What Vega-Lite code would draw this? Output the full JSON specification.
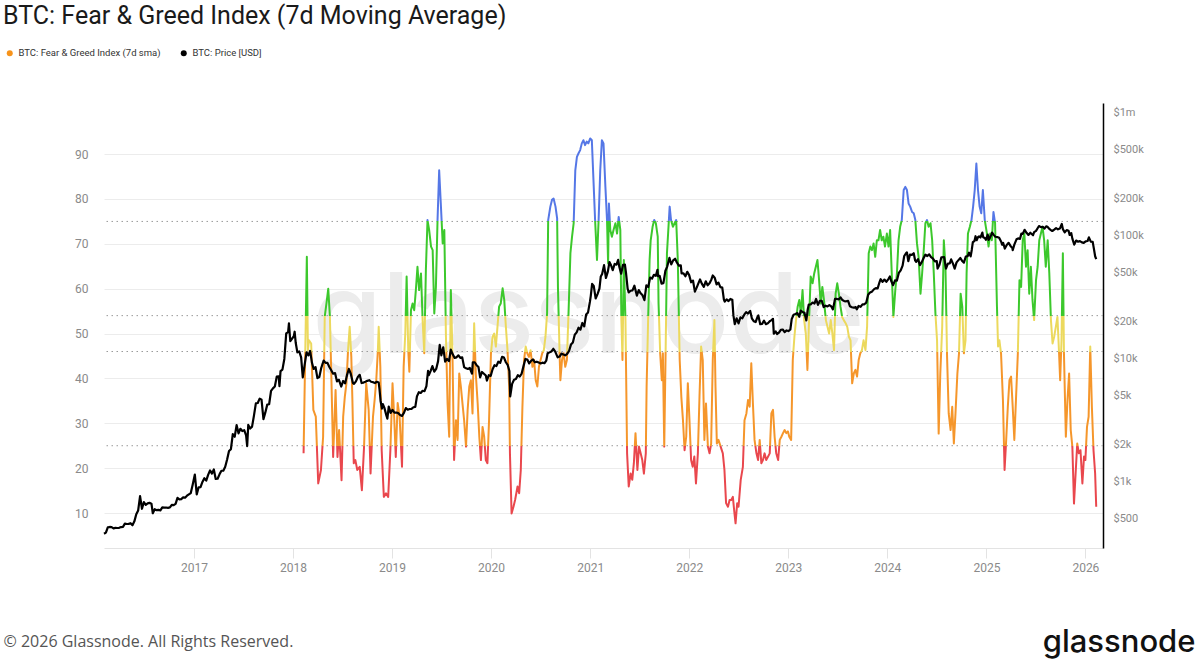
{
"$schema":"https://vega.github.io/schema/vega-lite/v6.json",
"width":999,"height":445,
"autosize":{"type":"none"},
"padding":{"left":104,"top":103,"right":97,"bottom":113},
"background":"white",
"config":{"view":{"stroke":null},"font":"Roboto"},
"title":{"text":"BTC: Fear & Greed Index (7d Moving Average)","anchor":"start","frame":"group","dx":-101,"dy":1,"offset":0,"baseline":"alphabetic","fontSize":25,"font":"Roboto","fontWeight":"normal","color":"#1a1a1a"},
"datasets":{
"thresholds":[{"fg":75},{"fg":54},{"fg":46},{"fg":25}],
"fg":[
{"date":"2018-02-09","fg":23.3},{"date":"2018-02-21","fg":67.1},{"date":"2018-02-25","fg":46.3},{"date":"2018-03-01","fg":48.5},{"date":"2018-03-09","fg":47.8},{"date":"2018-03-17","fg":33},{"date":"2018-03-26","fg":31.5},{"date":"2018-04-04","fg":16.6},{"date":"2018-04-14","fg":19.6},{"date":"2018-04-22","fg":27},{"date":"2018-04-28","fg":53.8},{"date":"2018-05-06","fg":57.5},{"date":"2018-05-11","fg":60},{"date":"2018-05-17","fg":53.8},{"date":"2018-05-23","fg":38.9},{"date":"2018-05-29","fg":22.5},{"date":"2018-06-07","fg":37.4},{"date":"2018-06-14","fg":22.5},{"date":"2018-06-20","fg":28.5},{"date":"2018-06-29","fg":17.3},{"date":"2018-07-05","fg":31.5},{"date":"2018-07-11","fg":35.9},{"date":"2018-07-17","fg":38.9},{"date":"2018-07-23","fg":46.3},{"date":"2018-07-29","fg":51.5},{"date":"2018-08-04","fg":44.8},{"date":"2018-08-08","fg":35.2},{"date":"2018-08-13","fg":21.1},{"date":"2018-08-19","fg":21.8},{"date":"2018-08-26","fg":19.6},{"date":"2018-09-04","fg":20.3},{"date":"2018-09-12","fg":15.1},{"date":"2018-09-20","fg":24.8},{"date":"2018-09-28","fg":38.9},{"date":"2018-10-07","fg":33},{"date":"2018-10-14","fg":18.8},{"date":"2018-10-23","fg":31.5},{"date":"2018-10-29","fg":35.2},{"date":"2018-11-04","fg":39.6},{"date":"2018-11-10","fg":46.3},{"date":"2018-11-13","fg":51.5},{"date":"2018-11-19","fg":42.6},{"date":"2018-11-24","fg":24},{"date":"2018-12-02","fg":13.6},{"date":"2018-12-10","fg":14.4},{"date":"2018-12-18","fg":13.6},{"date":"2018-12-26","fg":24},
{"date":"2019-01-03","fg":38.9},{"date":"2019-01-09","fg":31.5},{"date":"2019-01-15","fg":22.5},{"date":"2019-01-22","fg":34.5},{"date":"2019-01-29","fg":31.5},{"date":"2019-02-07","fg":20.3},{"date":"2019-02-13","fg":42.6},{"date":"2019-02-19","fg":50},{"date":"2019-02-24","fg":62.7},{"date":"2019-03-02","fg":46.3},{"date":"2019-03-06","fg":41.5},{"date":"2019-03-12","fg":55.2},{"date":"2019-03-18","fg":56.7},{"date":"2019-03-24","fg":55.2},{"date":"2019-03-30","fg":59.7},{"date":"2019-04-05","fg":64.9},{"date":"2019-04-11","fg":59.7},{"date":"2019-04-18","fg":63.4},{"date":"2019-04-24","fg":53},{"date":"2019-04-30","fg":45.6},{"date":"2019-05-06","fg":64.2},{"date":"2019-05-12","fg":75.3},{"date":"2019-05-18","fg":73.1},{"date":"2019-05-25","fg":69.4},{"date":"2019-05-31","fg":68.6},{"date":"2019-06-06","fg":54.5},{"date":"2019-06-12","fg":60.4},{"date":"2019-06-18","fg":75.3},{"date":"2019-06-24","fg":86.4},{"date":"2019-06-30","fg":79},{"date":"2019-07-07","fg":70.1},{"date":"2019-07-13","fg":73.1},{"date":"2019-07-19","fg":49.3},{"date":"2019-07-25","fg":34.4},{"date":"2019-07-31","fg":27},{"date":"2019-08-06","fg":59.7},{"date":"2019-08-12","fg":45.6},{"date":"2019-08-18","fg":21.8},{"date":"2019-08-25","fg":30.7},{"date":"2019-08-31","fg":26.3},{"date":"2019-09-06","fg":41.1},{"date":"2019-09-12","fg":38.2},{"date":"2019-09-18","fg":34.4},{"date":"2019-09-24","fg":30.7},{"date":"2019-10-01","fg":24.8},{"date":"2019-10-07","fg":33},{"date":"2019-10-13","fg":38.2},{"date":"2019-10-19","fg":39.6},{"date":"2019-10-25","fg":32.2},{"date":"2019-10-31","fg":52.3},{"date":"2019-11-06","fg":41.1},{"date":"2019-11-13","fg":34.4},{"date":"2019-11-19","fg":27},{"date":"2019-11-25","fg":21.8},{"date":"2019-12-01","fg":29.2},{"date":"2019-12-07","fg":27},{"date":"2019-12-13","fg":21.8},{"date":"2019-12-19","fg":21.1},{"date":"2019-12-25","fg":30.7},
{"date":"2020-01-01","fg":45.6},{"date":"2020-01-07","fg":49.3},{"date":"2020-01-13","fg":50},{"date":"2020-01-19","fg":47.1},{"date":"2020-01-25","fg":51.5},{"date":"2020-01-31","fg":56},{"date":"2020-02-06","fg":56.7},{"date":"2020-02-13","fg":60.1},{"date":"2020-02-19","fg":57.5},{"date":"2020-02-25","fg":51.5},{"date":"2020-03-02","fg":46.3},{"date":"2020-03-08","fg":38.2},{"date":"2020-03-11","fg":23.3},{"date":"2020-03-17","fg":9.9},{"date":"2020-03-24","fg":11.4},{"date":"2020-03-30","fg":12.9},{"date":"2020-04-08","fg":15.9},{"date":"2020-04-14","fg":14.4},{"date":"2020-04-20","fg":19.6},{"date":"2020-04-26","fg":33.7},{"date":"2020-05-02","fg":44.1},{"date":"2020-05-08","fg":47.1},{"date":"2020-05-14","fg":45.6},{"date":"2020-05-20","fg":44.8},{"date":"2020-05-26","fg":46.3},{"date":"2020-06-02","fg":42.6},{"date":"2020-06-08","fg":44.1},{"date":"2020-06-14","fg":39.6},{"date":"2020-06-20","fg":38.2},{"date":"2020-06-26","fg":42.6},{"date":"2020-07-02","fg":44.1},{"date":"2020-07-08","fg":45.6},{"date":"2020-07-14","fg":46.3},{"date":"2020-07-20","fg":49.3},{"date":"2020-07-26","fg":54.5},{"date":"2020-07-30","fg":75.3},{"date":"2020-08-07","fg":78.3},{"date":"2020-08-13","fg":79.8},{"date":"2020-08-19","fg":80.1},{"date":"2020-08-26","fg":78.3},{"date":"2020-09-01","fg":75.7},{"date":"2020-09-04","fg":60.4},{"date":"2020-09-10","fg":45.6},{"date":"2020-09-13","fg":39.6},{"date":"2020-09-19","fg":44.1},{"date":"2020-09-25","fg":45.6},{"date":"2020-10-01","fg":42.6},{"date":"2020-10-07","fg":44.1},{"date":"2020-10-13","fg":54.5},{"date":"2020-10-20","fg":67.9},{"date":"2020-10-26","fg":71.6},{"date":"2020-11-01","fg":74.6},{"date":"2020-11-07","fg":86.4},{"date":"2020-11-13","fg":89.4},{"date":"2020-11-19","fg":90.2},{"date":"2020-11-25","fg":90.9},{"date":"2020-12-01","fg":92.4},{"date":"2020-12-07","fg":93.1},{"date":"2020-12-13","fg":92},{"date":"2020-12-19","fg":92.8},{"date":"2020-12-25","fg":92.4},
{"date":"2021-01-01","fg":93.5},{"date":"2021-01-07","fg":93.1},{"date":"2021-01-13","fg":84.2},{"date":"2021-01-19","fg":75.3},{"date":"2021-01-26","fg":66.4},{"date":"2021-02-01","fg":75.3},{"date":"2021-02-07","fg":86.4},{"date":"2021-02-13","fg":93.1},{"date":"2021-02-19","fg":92.4},{"date":"2021-02-26","fg":82.7},{"date":"2021-03-04","fg":75.3},{"date":"2021-03-08","fg":65.6},{"date":"2021-03-11","fg":79},{"date":"2021-03-16","fg":73.1},{"date":"2021-03-22","fg":71.6},{"date":"2021-03-28","fg":73.1},{"date":"2021-04-04","fg":74.6},{"date":"2021-04-10","fg":72.3},{"date":"2021-04-16","fg":76},{"date":"2021-04-22","fg":73.1},{"date":"2021-04-26","fg":53},{"date":"2021-04-30","fg":44.1},{"date":"2021-05-05","fg":66.4},{"date":"2021-05-11","fg":53},{"date":"2021-05-17","fg":23.3},{"date":"2021-05-23","fg":15.9},{"date":"2021-05-30","fg":18.8},{"date":"2021-06-05","fg":17.4},{"date":"2021-06-11","fg":21.1},{"date":"2021-06-17","fg":27.8},{"date":"2021-06-24","fg":19.6},{"date":"2021-06-30","fg":24.8},{"date":"2021-07-06","fg":23.3},{"date":"2021-07-12","fg":21.8},{"date":"2021-07-18","fg":18.8},{"date":"2021-07-25","fg":23.3},{"date":"2021-07-28","fg":38.2},{"date":"2021-08-02","fg":51.5},{"date":"2021-08-08","fg":66.4},{"date":"2021-08-12","fg":70.8},{"date":"2021-08-19","fg":73.8},{"date":"2021-08-25","fg":75.3},{"date":"2021-08-31","fg":74.6},{"date":"2021-09-07","fg":71.6},{"date":"2021-09-10","fg":56.7},{"date":"2021-09-16","fg":45.6},{"date":"2021-09-22","fg":39.6},{"date":"2021-09-26","fg":45.6},{"date":"2021-10-01","fg":24.8},{"date":"2021-10-06","fg":45.6},{"date":"2021-10-11","fg":67.9},{"date":"2021-10-16","fg":73.1},{"date":"2021-10-21","fg":78.3},{"date":"2021-10-26","fg":75.3},{"date":"2021-11-02","fg":73.8},{"date":"2021-11-08","fg":74.6},{"date":"2021-11-14","fg":75.3},{"date":"2021-11-20","fg":66.4},{"date":"2021-11-27","fg":44.1},{"date":"2021-12-03","fg":35.9},{"date":"2021-12-09","fg":30.7},{"date":"2021-12-15","fg":24},{"date":"2021-12-21","fg":27},{"date":"2021-12-27","fg":38.9},
{"date":"2022-01-02","fg":30.7},{"date":"2022-01-08","fg":21.8},{"date":"2022-01-14","fg":20.3},{"date":"2022-01-20","fg":22.6},{"date":"2022-01-26","fg":16.6},{"date":"2022-02-02","fg":23.3},{"date":"2022-02-08","fg":35.9},{"date":"2022-02-14","fg":47.1},{"date":"2022-02-20","fg":44.1},{"date":"2022-02-26","fg":26.3},{"date":"2022-03-04","fg":34.4},{"date":"2022-03-11","fg":24.8},{"date":"2022-03-17","fg":23.3},{"date":"2022-03-23","fg":25.5},{"date":"2022-03-29","fg":44.1},{"date":"2022-04-04","fg":53},{"date":"2022-04-08","fg":38.2},{"date":"2022-04-13","fg":25.5},{"date":"2022-04-19","fg":26.3},{"date":"2022-04-27","fg":24.8},{"date":"2022-05-05","fg":23.3},{"date":"2022-05-11","fg":19.6},{"date":"2022-05-17","fg":12.2},{"date":"2022-05-24","fg":11.4},{"date":"2022-05-30","fg":12.9},{"date":"2022-06-05","fg":12.9},{"date":"2022-06-11","fg":13.6},{"date":"2022-06-17","fg":9.9},{"date":"2022-06-21","fg":7.7},{"date":"2022-06-27","fg":12.2},{"date":"2022-07-02","fg":11.4},{"date":"2022-07-10","fg":17.4},{"date":"2022-07-18","fg":20.3},{"date":"2022-07-24","fg":30.7},{"date":"2022-07-31","fg":32.2},{"date":"2022-08-06","fg":35.2},{"date":"2022-08-12","fg":33.7},{"date":"2022-08-18","fg":43.4},{"date":"2022-08-24","fg":34.4},{"date":"2022-08-30","fg":26.3},{"date":"2022-09-06","fg":23.3},{"date":"2022-09-12","fg":21.8},{"date":"2022-09-18","fg":26.3},{"date":"2022-09-24","fg":21.1},{"date":"2022-09-30","fg":21.8},{"date":"2022-10-06","fg":23.3},{"date":"2022-10-12","fg":21.8},{"date":"2022-10-19","fg":22.6},{"date":"2022-10-25","fg":23.3},{"date":"2022-10-31","fg":32.2},{"date":"2022-11-06","fg":33},{"date":"2022-11-12","fg":27},{"date":"2022-11-18","fg":23.3},{"date":"2022-11-25","fg":21.8},{"date":"2022-12-01","fg":26.3},{"date":"2022-12-07","fg":27},{"date":"2022-12-13","fg":27.8},{"date":"2022-12-19","fg":28.5},{"date":"2022-12-25","fg":27.8},{"date":"2022-12-31","fg":28.2},
{"date":"2023-01-05","fg":27},{"date":"2023-01-12","fg":26.3},{"date":"2023-01-18","fg":44.1},{"date":"2023-01-24","fg":49.3},{"date":"2023-01-30","fg":53},{"date":"2023-02-05","fg":56},{"date":"2023-02-11","fg":57.5},{"date":"2023-02-17","fg":54.5},{"date":"2023-02-23","fg":59.7},{"date":"2023-03-01","fg":53},{"date":"2023-03-07","fg":50},{"date":"2023-03-13","fg":41.9},{"date":"2023-03-19","fg":53},{"date":"2023-03-25","fg":62.7},{"date":"2023-04-01","fg":61.2},{"date":"2023-04-07","fg":63.4},{"date":"2023-04-13","fg":64.9},{"date":"2023-04-19","fg":66.4},{"date":"2023-04-25","fg":61.9},{"date":"2023-05-01","fg":56.7},{"date":"2023-05-07","fg":60.4},{"date":"2023-05-13","fg":57.5},{"date":"2023-05-20","fg":53},{"date":"2023-05-26","fg":51.5},{"date":"2023-06-01","fg":50},{"date":"2023-06-07","fg":53},{"date":"2023-06-13","fg":50},{"date":"2023-06-19","fg":46.3},{"date":"2023-06-25","fg":58.9},{"date":"2023-07-01","fg":61.2},{"date":"2023-07-07","fg":58.9},{"date":"2023-07-13","fg":56},{"date":"2023-07-19","fg":53.7},{"date":"2023-07-25","fg":53},{"date":"2023-08-01","fg":52.3},{"date":"2023-08-07","fg":51.5},{"date":"2023-08-13","fg":49.3},{"date":"2023-08-19","fg":48.5},{"date":"2023-08-25","fg":38.9},{"date":"2023-08-31","fg":41.1},{"date":"2023-09-06","fg":41.9},{"date":"2023-09-12","fg":40.4},{"date":"2023-09-18","fg":44.1},{"date":"2023-09-24","fg":45.6},{"date":"2023-09-30","fg":46.3},{"date":"2023-10-06","fg":48.5},{"date":"2023-10-13","fg":46.3},{"date":"2023-10-19","fg":51.5},{"date":"2023-10-25","fg":67.9},{"date":"2023-10-31","fg":69.4},{"date":"2023-11-06","fg":68.6},{"date":"2023-11-12","fg":70.1},{"date":"2023-11-18","fg":67.1},{"date":"2023-11-24","fg":70.8},{"date":"2023-11-30","fg":70.8},{"date":"2023-12-06","fg":73.1},{"date":"2023-12-12","fg":70.8},{"date":"2023-12-18","fg":71.6},{"date":"2023-12-24","fg":69.4},{"date":"2023-12-31","fg":72.3},
{"date":"2024-01-06","fg":69.4},{"date":"2024-01-12","fg":73.1},{"date":"2024-01-18","fg":63.4},{"date":"2024-01-24","fg":53.7},{"date":"2024-01-31","fg":59.7},{"date":"2024-02-06","fg":63.4},{"date":"2024-02-12","fg":70.8},{"date":"2024-02-18","fg":73.8},{"date":"2024-02-24","fg":75.3},{"date":"2024-03-02","fg":82},{"date":"2024-03-08","fg":82.7},{"date":"2024-03-14","fg":82},{"date":"2024-03-20","fg":79},{"date":"2024-03-26","fg":78.3},{"date":"2024-04-02","fg":77.1},{"date":"2024-04-08","fg":76.8},{"date":"2024-04-14","fg":75.3},{"date":"2024-04-20","fg":70.1},{"date":"2024-04-26","fg":67.1},{"date":"2024-05-03","fg":58.9},{"date":"2024-05-09","fg":63.4},{"date":"2024-05-15","fg":68.6},{"date":"2024-05-21","fg":74.6},{"date":"2024-05-27","fg":75.3},{"date":"2024-06-02","fg":73.8},{"date":"2024-06-09","fg":74.6},{"date":"2024-06-15","fg":70.8},{"date":"2024-06-21","fg":63.4},{"date":"2024-06-27","fg":54.5},{"date":"2024-07-03","fg":48.5},{"date":"2024-07-09","fg":27.7},{"date":"2024-07-15","fg":41.1},{"date":"2024-07-22","fg":51.5},{"date":"2024-07-28","fg":70.8},{"date":"2024-08-03","fg":64.9},{"date":"2024-08-09","fg":44.8},{"date":"2024-08-15","fg":32.2},{"date":"2024-08-22","fg":28.5},{"date":"2024-08-28","fg":33.7},{"date":"2024-09-03","fg":25.5},{"date":"2024-09-09","fg":32.2},{"date":"2024-09-16","fg":41.1},{"date":"2024-09-22","fg":45.6},{"date":"2024-09-28","fg":58.9},{"date":"2024-10-04","fg":56},{"date":"2024-10-10","fg":45.6},{"date":"2024-10-16","fg":48.5},{"date":"2024-10-20","fg":63.4},{"date":"2024-10-25","fg":72.3},{"date":"2024-11-01","fg":73.8},{"date":"2024-11-07","fg":75.3},{"date":"2024-11-13","fg":78.3},{"date":"2024-11-19","fg":82},{"date":"2024-11-25","fg":87.9},{"date":"2024-12-01","fg":82},{"date":"2024-12-07","fg":78.3},{"date":"2024-12-13","fg":76.8},{"date":"2024-12-19","fg":82},{"date":"2024-12-26","fg":75.3},
{"date":"2025-01-03","fg":72.3},{"date":"2025-01-09","fg":69.4},{"date":"2025-01-15","fg":72.3},{"date":"2025-01-21","fg":70.8},{"date":"2025-01-27","fg":77.1},{"date":"2025-02-02","fg":74.6},{"date":"2025-02-09","fg":56},{"date":"2025-02-13","fg":47.1},{"date":"2025-02-18","fg":48.5},{"date":"2025-02-24","fg":45.6},{"date":"2025-03-03","fg":35.2},{"date":"2025-03-09","fg":19.6},{"date":"2025-03-15","fg":26.3},{"date":"2025-03-21","fg":33.7},{"date":"2025-03-27","fg":39.6},{"date":"2025-04-02","fg":40.4},{"date":"2025-04-08","fg":33.7},{"date":"2025-04-14","fg":26.3},{"date":"2025-04-20","fg":35.2},{"date":"2025-04-27","fg":45.6},{"date":"2025-05-03","fg":61.9},{"date":"2025-05-09","fg":60.4},{"date":"2025-05-15","fg":70.8},{"date":"2025-05-21","fg":72.3},{"date":"2025-05-27","fg":64.9},{"date":"2025-06-02","fg":68.6},{"date":"2025-06-08","fg":58.9},{"date":"2025-06-14","fg":64.9},{"date":"2025-06-20","fg":57.5},{"date":"2025-06-26","fg":53},{"date":"2025-07-03","fg":61.9},{"date":"2025-07-09","fg":64.9},{"date":"2025-07-15","fg":70.8},{"date":"2025-07-21","fg":72.3},{"date":"2025-07-27","fg":73.8},{"date":"2025-08-02","fg":70.8},{"date":"2025-08-08","fg":64.9},{"date":"2025-08-15","fg":70.8},{"date":"2025-08-21","fg":63.4},{"date":"2025-08-27","fg":53},{"date":"2025-09-02","fg":47.8},{"date":"2025-09-08","fg":49.3},{"date":"2025-09-14","fg":51.5},{"date":"2025-09-20","fg":53.7},{"date":"2025-09-26","fg":45.6},{"date":"2025-09-30","fg":39.6},{"date":"2025-10-05","fg":48.5},{"date":"2025-10-10","fg":67.9},{"date":"2025-10-14","fg":45.6},{"date":"2025-10-21","fg":27},{"date":"2025-10-27","fg":35.2},{"date":"2025-11-02","fg":41.1},{"date":"2025-11-08","fg":28.5},{"date":"2025-11-14","fg":24.8},{"date":"2025-11-20","fg":12.1},{"date":"2025-11-26","fg":18.8},{"date":"2025-12-02","fg":25.5},{"date":"2025-12-08","fg":23.3},{"date":"2025-12-14","fg":24},{"date":"2025-12-21","fg":16.6},{"date":"2025-12-27","fg":22.6},
{"date":"2026-01-01","fg":21.8},{"date":"2026-01-07","fg":29.2},{"date":"2026-01-13","fg":31.5},{"date":"2026-01-19","fg":47.1},{"date":"2026-01-25","fg":33.7},{"date":"2026-01-31","fg":24},{"date":"2026-02-06","fg":18.8},{"date":"2026-02-10","fg":11.4}
],
"price":[
{"date":"2016-02-04","price":372},{"date":"2016-02-11","price":380},{"date":"2016-02-18","price":420},{"date":"2016-02-25","price":423},{"date":"2016-03-03","price":422},{"date":"2016-03-10","price":412},{"date":"2016-03-17","price":416},{"date":"2016-03-24","price":415},{"date":"2016-03-31","price":416},{"date":"2016-04-07","price":422},{"date":"2016-04-14","price":424},{"date":"2016-04-21","price":450},{"date":"2016-04-28","price":447},{"date":"2016-05-05","price":448},{"date":"2016-05-12","price":454},{"date":"2016-05-19","price":437},{"date":"2016-05-26","price":470},{"date":"2016-06-02","price":537},{"date":"2016-06-09","price":577},{"date":"2016-06-16","price":755},{"date":"2016-06-23","price":595},{"date":"2016-06-30","price":674},{"date":"2016-07-07","price":640},{"date":"2016-07-14","price":658},{"date":"2016-07-21","price":665},{"date":"2016-07-28","price":655},{"date":"2016-08-02","price":547},{"date":"2016-08-09","price":590},{"date":"2016-08-16","price":580},{"date":"2016-08-23","price":583},{"date":"2016-08-30","price":577},{"date":"2016-09-06","price":610},{"date":"2016-09-13","price":608},{"date":"2016-09-20","price":609},{"date":"2016-09-27","price":606},{"date":"2016-10-04","price":610},{"date":"2016-10-11","price":641},{"date":"2016-10-18","price":637},{"date":"2016-10-25","price":652},{"date":"2016-11-01","price":730},{"date":"2016-11-08","price":710},{"date":"2016-11-15","price":713},{"date":"2016-11-22","price":738},{"date":"2016-11-29","price":733},{"date":"2016-12-06","price":760},{"date":"2016-12-13","price":780},{"date":"2016-12-20","price":799},{"date":"2016-12-27","price":934},
{"date":"2017-01-04","price":1130},{"date":"2017-01-11","price":780},{"date":"2017-01-18","price":890},{"date":"2017-01-25","price":893},{"date":"2017-02-01","price":985},{"date":"2017-02-08","price":1055},{"date":"2017-02-15","price":1010},{"date":"2017-02-22","price":1125},{"date":"2017-03-01","price":1222},{"date":"2017-03-08","price":1150},{"date":"2017-03-15","price":1245},{"date":"2017-03-22","price":1040},{"date":"2017-03-29","price":1045},{"date":"2017-04-05","price":1135},{"date":"2017-04-12","price":1215},{"date":"2017-04-19","price":1215},{"date":"2017-04-26","price":1310},{"date":"2017-05-03","price":1500},{"date":"2017-05-10","price":1760},{"date":"2017-05-17","price":1820},{"date":"2017-05-24","price":2420},{"date":"2017-05-31","price":2300},{"date":"2017-06-07","price":2860},{"date":"2017-06-14","price":2450},{"date":"2017-06-21","price":2670},{"date":"2017-06-28","price":2560},{"date":"2017-07-05","price":2600},{"date":"2017-07-12","price":2360},{"date":"2017-07-16","price":1930},{"date":"2017-07-20","price":2870},{"date":"2017-07-27","price":2680},{"date":"2017-08-03","price":2780},{"date":"2017-08-10","price":3420},{"date":"2017-08-17","price":4300},{"date":"2017-08-24","price":4330},{"date":"2017-08-31","price":4700},{"date":"2017-09-07","price":4600},{"date":"2017-09-14","price":3200},{"date":"2017-09-21","price":3630},{"date":"2017-09-28","price":4200},{"date":"2017-10-05","price":4230},{"date":"2017-10-12","price":5440},{"date":"2017-10-19","price":5700},{"date":"2017-10-26","price":5900},{"date":"2017-11-02","price":7100},{"date":"2017-11-09","price":7150},{"date":"2017-11-12","price":5950},{"date":"2017-11-16","price":7870},{"date":"2017-11-23","price":8100},{"date":"2017-11-30","price":9900},{"date":"2017-12-07","price":16000},{"date":"2017-12-14","price":16400},{"date":"2017-12-17","price":19300},{"date":"2017-12-22","price":13800},{"date":"2017-12-28","price":14400},
{"date":"2018-01-04","price":15200},{"date":"2018-01-07","price":16500},{"date":"2018-01-11","price":13400},{"date":"2018-01-17","price":11200},{"date":"2018-01-24","price":11400},{"date":"2018-01-31","price":10200},{"date":"2018-02-06","price":7000},{"date":"2018-02-13","price":8900},{"date":"2018-02-20","price":11200},{"date":"2018-02-27","price":10600},{"date":"2018-03-05","price":11500},{"date":"2018-03-12","price":9200},{"date":"2018-03-18","price":8200},{"date":"2018-03-25","price":8500},{"date":"2018-04-01","price":6900},{"date":"2018-04-08","price":7050},{"date":"2018-04-15","price":8350},{"date":"2018-04-24","price":9600},{"date":"2018-05-01","price":9200},{"date":"2018-05-08","price":9200},{"date":"2018-05-15","price":8500},{"date":"2018-05-22","price":8000},{"date":"2018-05-29","price":7500},{"date":"2018-06-05","price":7600},{"date":"2018-06-12","price":6500},{"date":"2018-06-19","price":6700},{"date":"2018-06-28","price":5900},{"date":"2018-07-05","price":6550},{"date":"2018-07-12","price":6250},{"date":"2018-07-19","price":7300},{"date":"2018-07-26","price":8200},{"date":"2018-08-02","price":7500},{"date":"2018-08-10","price":6300},{"date":"2018-08-14","price":6200},{"date":"2018-08-21","price":6500},{"date":"2018-08-28","price":7050},{"date":"2018-09-04","price":7350},{"date":"2018-09-11","price":6300},{"date":"2018-09-18","price":6350},{"date":"2018-09-25","price":6450},{"date":"2018-10-02","price":6560},{"date":"2018-10-09","price":6640},{"date":"2018-10-16","price":6450},{"date":"2018-10-23","price":6400},{"date":"2018-10-30","price":6300},{"date":"2018-11-06","price":6450},{"date":"2018-11-13","price":6360},{"date":"2018-11-16","price":5600},{"date":"2018-11-20","price":4500},{"date":"2018-11-25","price":3900},{"date":"2018-11-28","price":4250},{"date":"2018-12-04","price":3950},{"date":"2018-12-11","price":3450},{"date":"2018-12-15","price":3230},{"date":"2018-12-20","price":4050},{"date":"2018-12-27","price":3600},
{"date":"2019-01-03","price":3800},{"date":"2019-01-10","price":3620},{"date":"2019-01-17","price":3620},{"date":"2019-01-24","price":3580},{"date":"2019-01-31","price":3460},{"date":"2019-02-07","price":3400},{"date":"2019-02-14","price":3600},{"date":"2019-02-21","price":3940},{"date":"2019-02-28","price":3820},{"date":"2019-03-07","price":3870},{"date":"2019-03-14","price":3880},{"date":"2019-03-21","price":4000},{"date":"2019-03-28","price":4030},{"date":"2019-04-03","price":4900},{"date":"2019-04-10","price":5300},{"date":"2019-04-17","price":5230},{"date":"2019-04-24","price":5450},{"date":"2019-05-01","price":5400},{"date":"2019-05-08","price":5940},{"date":"2019-05-14","price":7900},{"date":"2019-05-17","price":7300},{"date":"2019-05-24","price":7950},{"date":"2019-05-30","price":8650},{"date":"2019-06-06","price":7800},{"date":"2019-06-13","price":8200},{"date":"2019-06-20","price":9500},{"date":"2019-06-26","price":12900},{"date":"2019-07-02","price":10600},{"date":"2019-07-09","price":12300},{"date":"2019-07-16","price":9400},{"date":"2019-07-23","price":9900},{"date":"2019-07-30","price":9500},{"date":"2019-08-06","price":11800},{"date":"2019-08-13","price":10800},{"date":"2019-08-20","price":10100},{"date":"2019-08-27","price":10200},{"date":"2019-09-03","price":10600},{"date":"2019-09-10","price":10100},{"date":"2019-09-17","price":10200},{"date":"2019-09-24","price":8500},{"date":"2019-10-01","price":8300},{"date":"2019-10-08","price":8200},{"date":"2019-10-15","price":8350},{"date":"2019-10-23","price":7500},{"date":"2019-10-26","price":9300},{"date":"2019-11-02","price":9300},{"date":"2019-11-09","price":8800},{"date":"2019-11-16","price":8500},{"date":"2019-11-22","price":7000},{"date":"2019-11-29","price":7750},{"date":"2019-12-06","price":7500},{"date":"2019-12-13","price":7250},{"date":"2019-12-17","price":6600},{"date":"2019-12-24","price":7300},{"date":"2019-12-31","price":7200},
{"date":"2020-01-07","price":8150},{"date":"2020-01-14","price":8800},{"date":"2020-01-21","price":8650},{"date":"2020-01-28","price":9400},{"date":"2020-02-04","price":9200},{"date":"2020-02-11","price":10300},{"date":"2020-02-18","price":10150},{"date":"2020-02-25","price":9300},{"date":"2020-03-03","price":8800},{"date":"2020-03-09","price":7900},{"date":"2020-03-12","price":4900},{"date":"2020-03-19","price":6200},{"date":"2020-03-26","price":6700},{"date":"2020-04-02","price":6800},{"date":"2020-04-09","price":7300},{"date":"2020-04-16","price":7100},{"date":"2020-04-23","price":7500},{"date":"2020-04-30","price":8650},{"date":"2020-05-07","price":9900},{"date":"2020-05-14","price":9800},{"date":"2020-05-21","price":9100},{"date":"2020-05-28","price":9550},{"date":"2020-06-04","price":9800},{"date":"2020-06-11","price":9300},{"date":"2020-06-18","price":9400},{"date":"2020-06-25","price":9250},{"date":"2020-07-02","price":9100},{"date":"2020-07-09","price":9230},{"date":"2020-07-16","price":9130},{"date":"2020-07-23","price":9600},{"date":"2020-07-28","price":11000},{"date":"2020-08-04","price":11200},{"date":"2020-08-11","price":11400},{"date":"2020-08-18","price":11980},{"date":"2020-08-25","price":11350},{"date":"2020-09-03","price":10200},{"date":"2020-09-10","price":10350},{"date":"2020-09-17","price":10950},{"date":"2020-09-24","price":10750},{"date":"2020-10-01","price":10600},{"date":"2020-10-08","price":10900},{"date":"2020-10-15","price":11500},{"date":"2020-10-22","price":12950},{"date":"2020-10-29","price":13450},{"date":"2020-11-05","price":15600},{"date":"2020-11-12","price":16300},{"date":"2020-11-19","price":17800},{"date":"2020-11-26","price":17150},{"date":"2020-12-03","price":19450},{"date":"2020-12-10","price":18250},{"date":"2020-12-17","price":22800},{"date":"2020-12-24","price":23700},{"date":"2020-12-31","price":29000},
{"date":"2021-01-03","price":32200},{"date":"2021-01-08","price":40500},{"date":"2021-01-14","price":39000},{"date":"2021-01-21","price":30800},{"date":"2021-01-28","price":33400},{"date":"2021-02-04","price":37000},{"date":"2021-02-09","price":46500},{"date":"2021-02-14","price":48800},{"date":"2021-02-21","price":57500},{"date":"2021-02-28","price":45200},{"date":"2021-03-07","price":51000},{"date":"2021-03-13","price":61000},{"date":"2021-03-18","price":58000},{"date":"2021-03-25","price":52300},{"date":"2021-04-01","price":58800},{"date":"2021-04-08","price":58000},{"date":"2021-04-14","price":63500},{"date":"2021-04-18","price":56200},{"date":"2021-04-25","price":49000},{"date":"2021-05-02","price":57800},{"date":"2021-05-09","price":58200},{"date":"2021-05-13","price":49700},{"date":"2021-05-19","price":37000},{"date":"2021-05-23","price":34500},{"date":"2021-05-30","price":35600},{"date":"2021-06-06","price":35800},{"date":"2021-06-13","price":39100},{"date":"2021-06-22","price":32500},{"date":"2021-06-29","price":36000},{"date":"2021-07-06","price":33900},{"date":"2021-07-13","price":32700},{"date":"2021-07-20","price":29800},{"date":"2021-07-27","price":39400},{"date":"2021-08-03","price":38200},{"date":"2021-08-10","price":45600},{"date":"2021-08-17","price":44700},{"date":"2021-08-24","price":48000},{"date":"2021-08-31","price":47100},{"date":"2021-09-06","price":52700},{"date":"2021-09-08","price":46800},{"date":"2021-09-14","price":47100},{"date":"2021-09-21","price":40700},{"date":"2021-09-28","price":41000},{"date":"2021-10-05","price":51500},{"date":"2021-10-12","price":56000},{"date":"2021-10-20","price":65900},{"date":"2021-10-27","price":58400},{"date":"2021-11-03","price":62900},{"date":"2021-11-10","price":64900},{"date":"2021-11-17","price":60300},{"date":"2021-11-24","price":57100},{"date":"2021-12-01","price":57200},{"date":"2021-12-04","price":49200},{"date":"2021-12-11","price":49300},{"date":"2021-12-18","price":46700},{"date":"2021-12-25","price":50800},
{"date":"2022-01-01","price":47700},{"date":"2022-01-08","price":41700},{"date":"2022-01-15","price":43100},{"date":"2022-01-22","price":35000},{"date":"2022-01-29","price":37900},{"date":"2022-02-05","price":41400},{"date":"2022-02-10","price":44000},{"date":"2022-02-17","price":40500},{"date":"2022-02-24","price":38300},{"date":"2022-03-03","price":42500},{"date":"2022-03-10","price":39400},{"date":"2022-03-17","price":40900},{"date":"2022-03-24","price":44000},{"date":"2022-03-29","price":47400},{"date":"2022-04-05","price":45500},{"date":"2022-04-12","price":40100},{"date":"2022-04-19","price":41500},{"date":"2022-04-26","price":38100},{"date":"2022-05-03","price":37700},{"date":"2022-05-09","price":30100},{"date":"2022-05-12","price":29000},{"date":"2022-05-19","price":30300},{"date":"2022-05-26","price":29300},{"date":"2022-06-02","price":30500},{"date":"2022-06-09","price":30100},{"date":"2022-06-13","price":22500},{"date":"2022-06-18","price":19000},{"date":"2022-06-25","price":21200},{"date":"2022-07-02","price":19300},{"date":"2022-07-09","price":21600},{"date":"2022-07-16","price":21200},{"date":"2022-07-23","price":22700},{"date":"2022-07-30","price":23800},{"date":"2022-08-06","price":23200},{"date":"2022-08-14","price":24400},{"date":"2022-08-20","price":21200},{"date":"2022-08-27","price":20100},{"date":"2022-09-03","price":19800},{"date":"2022-09-10","price":21800},{"date":"2022-09-13","price":22400},{"date":"2022-09-20","price":19000},{"date":"2022-09-27","price":19100},{"date":"2022-10-04","price":20300},{"date":"2022-10-11","price":19000},{"date":"2022-10-18","price":19300},{"date":"2022-10-25","price":20100},{"date":"2022-11-01","price":20500},{"date":"2022-11-06","price":21000},{"date":"2022-11-09","price":15900},{"date":"2022-11-16","price":16600},{"date":"2022-11-21","price":15800},{"date":"2022-11-28","price":16200},{"date":"2022-12-05","price":17100},{"date":"2022-12-12","price":17200},{"date":"2022-12-19","price":16400},{"date":"2022-12-26","price":16900},
{"date":"2023-01-02","price":16700},{"date":"2023-01-09","price":17200},{"date":"2023-01-14","price":20900},{"date":"2023-01-21","price":22700},{"date":"2023-01-28","price":23000},{"date":"2023-02-04","price":23400},{"date":"2023-02-11","price":21800},{"date":"2023-02-16","price":24500},{"date":"2023-02-23","price":23900},{"date":"2023-03-02","price":23500},{"date":"2023-03-09","price":20400},{"date":"2023-03-14","price":24800},{"date":"2023-03-18","price":27500},{"date":"2023-03-25","price":27500},{"date":"2023-04-01","price":28500},{"date":"2023-04-08","price":28000},{"date":"2023-04-14","price":30500},{"date":"2023-04-21","price":27300},{"date":"2023-04-28","price":29500},{"date":"2023-05-05","price":29500},{"date":"2023-05-12","price":26200},{"date":"2023-05-19","price":26900},{"date":"2023-05-26","price":26500},{"date":"2023-06-02","price":27200},{"date":"2023-06-09","price":26500},{"date":"2023-06-15","price":25100},{"date":"2023-06-23","price":30600},{"date":"2023-06-30","price":30500},{"date":"2023-07-07","price":30300},{"date":"2023-07-13","price":31400},{"date":"2023-07-20","price":29900},{"date":"2023-07-27","price":29300},{"date":"2023-08-03","price":29200},{"date":"2023-08-10","price":29400},{"date":"2023-08-17","price":26600},{"date":"2023-08-24","price":26100},{"date":"2023-08-31","price":25900},{"date":"2023-09-07","price":26200},{"date":"2023-09-11","price":25100},{"date":"2023-09-18","price":26800},{"date":"2023-09-25","price":26300},{"date":"2023-10-02","price":27600},{"date":"2023-10-09","price":27600},{"date":"2023-10-16","price":28500},{"date":"2023-10-23","price":33000},{"date":"2023-10-30","price":34500},{"date":"2023-11-06","price":35000},{"date":"2023-11-13","price":36500},{"date":"2023-11-20","price":37400},{"date":"2023-11-27","price":37200},{"date":"2023-12-04","price":41900},{"date":"2023-12-08","price":44200},{"date":"2023-12-15","price":42000},{"date":"2023-12-22","price":43900},{"date":"2023-12-29","price":42100},
{"date":"2024-01-05","price":44100},{"date":"2024-01-11","price":46500},{"date":"2024-01-16","price":42700},{"date":"2024-01-23","price":39500},{"date":"2024-01-30","price":43300},{"date":"2024-02-06","price":43100},{"date":"2024-02-13","price":49700},{"date":"2024-02-20","price":52200},{"date":"2024-02-27","price":57000},{"date":"2024-03-04","price":68300},{"date":"2024-03-11","price":72100},{"date":"2024-03-14","price":73100},{"date":"2024-03-19","price":62000},{"date":"2024-03-25","price":70000},{"date":"2024-04-01","price":69700},{"date":"2024-04-08","price":72000},{"date":"2024-04-13","price":63000},{"date":"2024-04-17","price":61300},{"date":"2024-04-24","price":64300},{"date":"2024-05-01","price":57600},{"date":"2024-05-08","price":61200},{"date":"2024-05-15","price":66200},{"date":"2024-05-21","price":70100},{"date":"2024-05-28","price":68300},{"date":"2024-06-04","price":70500},{"date":"2024-06-11","price":66900},{"date":"2024-06-18","price":65100},{"date":"2024-06-25","price":61800},{"date":"2024-07-02","price":62100},{"date":"2024-07-05","price":54000},{"date":"2024-07-12","price":57900},{"date":"2024-07-19","price":66700},{"date":"2024-07-29","price":66800},{"date":"2024-08-05","price":54000},{"date":"2024-08-12","price":59300},{"date":"2024-08-19","price":59400},{"date":"2024-08-24","price":64100},{"date":"2024-08-31","price":58900},{"date":"2024-09-06","price":53900},{"date":"2024-09-13","price":60600},{"date":"2024-09-20","price":63200},{"date":"2024-09-27","price":65800},{"date":"2024-10-04","price":62100},{"date":"2024-10-10","price":60300},{"date":"2024-10-17","price":67600},{"date":"2024-10-24","price":68200},{"date":"2024-10-29","price":72700},{"date":"2024-11-04","price":67800},{"date":"2024-11-08","price":76500},{"date":"2024-11-12","price":88700},{"date":"2024-11-18","price":90500},{"date":"2024-11-22","price":99000},{"date":"2024-11-26","price":91900},{"date":"2024-12-01","price":97200},{"date":"2024-12-05","price":98800},{"date":"2024-12-10","price":96600},{"date":"2024-12-17","price":106100},{"date":"2024-12-20","price":97300},{"date":"2024-12-26","price":95800},{"date":"2024-12-30","price":92600},
{"date":"2025-01-06","price":102000},{"date":"2025-01-09","price":92500},{"date":"2025-01-14","price":96500},{"date":"2025-01-20","price":102300},{"date":"2025-01-22","price":106000},{"date":"2025-01-27","price":102000},{"date":"2025-02-03","price":98000},{"date":"2025-02-10","price":97500},{"date":"2025-02-17","price":96000},{"date":"2025-02-25","price":88700},{"date":"2025-02-28","price":84300},{"date":"2025-03-04","price":87200},{"date":"2025-03-10","price":78500},{"date":"2025-03-17","price":84000},{"date":"2025-03-24","price":87500},{"date":"2025-03-31","price":82500},{"date":"2025-04-07","price":79200},{"date":"2025-04-08","price":76300},{"date":"2025-04-14","price":84500},{"date":"2025-04-22","price":93400},{"date":"2025-04-28","price":95000},{"date":"2025-05-05","price":94300},{"date":"2025-05-10","price":104000},{"date":"2025-05-15","price":103500},{"date":"2025-05-22","price":111700},{"date":"2025-05-29","price":105600},{"date":"2025-06-05","price":101500},{"date":"2025-06-12","price":105600},{"date":"2025-06-22","price":100900},{"date":"2025-06-26","price":107000},{"date":"2025-07-03","price":109600},{"date":"2025-07-10","price":116000},{"date":"2025-07-14","price":119800},{"date":"2025-07-21","price":117400},{"date":"2025-07-28","price":118000},{"date":"2025-08-03","price":114200},{"date":"2025-08-10","price":119300},{"date":"2025-08-14","price":118300},{"date":"2025-08-20","price":114300},{"date":"2025-08-27","price":111200},{"date":"2025-09-01","price":109200},{"date":"2025-09-08","price":112100},{"date":"2025-09-15","price":115400},{"date":"2025-09-22","price":112700},{"date":"2025-09-29","price":114300},{"date":"2025-10-06","price":124700},{"date":"2025-10-10","price":113200},{"date":"2025-10-17","price":106500},{"date":"2025-10-24","price":111000},{"date":"2025-10-31","price":109600},{"date":"2025-11-04","price":101500},{"date":"2025-11-10","price":105000},{"date":"2025-11-14","price":94600},{"date":"2025-11-21","price":84600},{"date":"2025-11-28","price":91300},{"date":"2025-12-05","price":89300},{"date":"2025-12-12","price":90300},{"date":"2025-12-19","price":88200},{"date":"2025-12-26","price":87300},
{"date":"2026-01-02","price":89900},{"date":"2026-01-09","price":90500},{"date":"2026-01-14","price":96900},{"date":"2026-01-21","price":89400},{"date":"2026-01-28","price":89000},{"date":"2026-02-02","price":77000},{"date":"2026-02-06","price":68000},{"date":"2026-02-10","price":64500}
]
},
"layer":[
{"encoding":{"y":{"field":"fg","type":"quantitative","scale":{"domain":[2.2,101.4],"nice":false,"zero":false},
 "axis":{"orient":"left","values":[10,20,30,40,50,60,70,80,90],"grid":true,"gridColor":"#ececec","gridWidth":1,"domain":false,"ticks":false,"labelPadding":16,"labelColor":"#8a8a8a","labelFontSize":12,"labelFont":"Roboto",
 "title":"glassnode","titleAngle":0,"titleX":484,"titleY":249,"titleAlign":"center","titleBaseline":"alphabetic","titleFontSize":112,"titleFont":"Inter","titleFontWeight":500,"titleColor":"#ececec"}}},
 "layer":[
  {"data":{"name":"thresholds"},"mark":{"type":"rule","stroke":"#9a9a9a","strokeDash":[1.5,3.5],"strokeWidth":1}},
  {"data":{"name":"fg"},"mark":{"type":"line","strokeWidth":2,"strokeJoin":"round",
   "stroke":{"gradient":"linear","x1":0,"y1":0,"x2":0,"y2":1,"stops":[
    {"offset":0,"color":"#5577e6"},{"offset":0.2156,"color":"#5577e6"},
    {"offset":0.2156,"color":"#3cc82c"},{"offset":0.4604,"color":"#3cc82c"},
    {"offset":0.4604,"color":"#ecd95d"},{"offset":0.5536,"color":"#ecd95d"},
    {"offset":0.5536,"color":"#f5962b"},{"offset":0.7984,"color":"#f5962b"},
    {"offset":0.7984,"color":"#e9474d"},{"offset":1,"color":"#e9474d"}]}},
   "encoding":{"x":{"field":"date","type":"temporal","scale":{"domain":[{"year":2016,"month":2,"date":4},{"year":2026,"month":3,"date":7}]},
    "axis":{"format":"%Y","tickCount":{"interval":"year","step":1},"grid":false,"labelFlush":false,"domainColor":"#e3e3e3","tickColor":"#e3e3e3","tickSize":10,"labelColor":"#8a8a8a","labelFontSize":12,"labelPadding":4,
    "title":"© 2026 Glassnode. All Rights Reserved.","titleX":-101,"titleY":98,"titleAlign":"left","titleBaseline":"alphabetic","titleFontSize":16,"titleFontWeight":"normal","titleColor":"#555555","titleFont":"Open Sans"}}}}
 ]},
{"data":{"name":"price"},"mark":{"type":"line","strokeWidth":2.2,"strokeJoin":"round"},
 "encoding":{
  "x":{"field":"date","type":"temporal","scale":{"domain":[{"year":2016,"month":2,"date":4},{"year":2026,"month":3,"date":7}]},
    "axis":{"format":"%Y","tickCount":{"interval":"year","step":1},"grid":false,"labelFlush":false,"domainColor":"#e3e3e3","tickColor":"#e3e3e3","tickSize":10,"labelColor":"#8a8a8a","labelFontSize":12,"labelPadding":4,
    "title":"© 2026 Glassnode. All Rights Reserved.","titleX":-101,"titleY":98,"titleAlign":"left","titleBaseline":"alphabetic","titleFontSize":16,"titleFontWeight":"normal","titleColor":"#555555","titleFont":"Open Sans"}},
  "y":{"field":"price","type":"quantitative","scale":{"type":"log","domain":[285,1206000],"nice":false},
   "axis":{"orient":"right","values":[500,1000,2000,5000,10000,20000,50000,100000,200000,500000,1000000],
    "labelExpr":"datum.value >= 1000000 ? '$' + (datum.value/1000000) + 'm' : datum.value >= 1000 ? '$' + (datum.value/1000) + 'k' : '$' + datum.value",
    "grid":false,"ticks":false,"domain":true,"domainColor":"#000000","domainWidth":1.5,"labelPadding":10,"labelColor":"#8a8a8a","labelFontSize":11,"labelFont":"Roboto",
    "title":"glassnode","titleAngle":0,"titleX":92,"titleY":548,"titleAlign":"right","titleBaseline":"alphabetic","titleFontSize":31,"titleFont":"Inter","titleFontWeight":500,"titleColor":"#111111"}},
  "color":{"datum":"BTC: Price [USD]","scale":{"domain":["BTC: Fear & Greed Index (7d sma)","BTC: Price [USD]"],"range":["#f7931a","#000000"]},
   "legend":{"orient":"none","legendX":-99,"legendY":-55,"direction":"horizontal","title":null,"symbolType":"circle","symbolSize":36,"symbolStrokeWidth":0,"labelFont":"Roboto","labelFontSize":9.5,"labelColor":"#333333","columnPadding":18,"labelOffset":4,
    "encode":{"symbols":{"update":{"fill":{"scale":"color","field":"value"},"opacity":{"value":1}}}}}}
 }}
],
"resolve":{"scale":{"y":"independent"}}
}
